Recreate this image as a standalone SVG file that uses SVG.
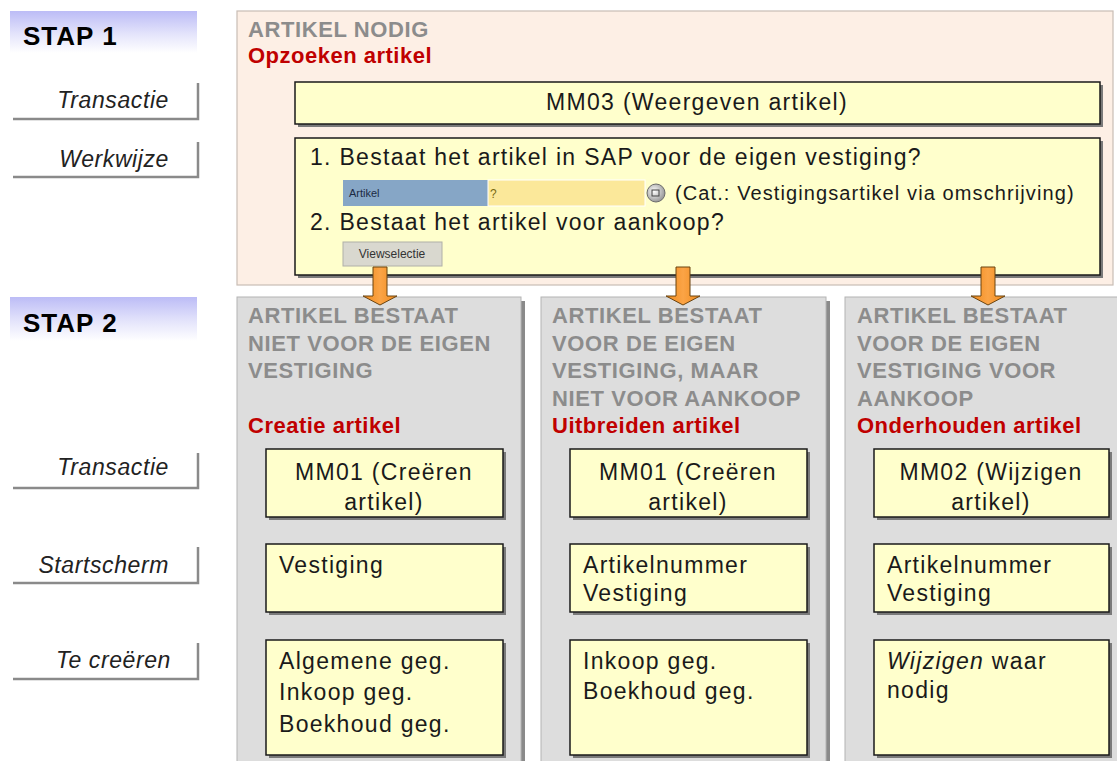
<svg xmlns="http://www.w3.org/2000/svg" width="1117" height="761" viewBox="0 0 1117 761">
<defs>
<linearGradient id="stapGrad" x1="0" y1="0" x2="0" y2="1">
<stop offset="0" stop-color="#bcbcf6"/>
<stop offset="0.55" stop-color="#e4e4fb"/>
<stop offset="1" stop-color="#ffffff"/>
</linearGradient>
<linearGradient id="arrowGrad" x1="0" y1="0" x2="1" y2="0">
<stop offset="0" stop-color="#f08a1c"/>
<stop offset="0.5" stop-color="#fba446"/>
<stop offset="1" stop-color="#f08a1c"/>
</linearGradient>
<radialGradient id="iconGrad" cx="0.4" cy="0.4" r="0.6">
<stop offset="0" stop-color="#ffffff"/>
<stop offset="1" stop-color="#9a9a9a"/>
</radialGradient>
</defs>
<style>
.stap{font-family:"Liberation Sans",Arial,sans-serif;font-weight:bold;font-size:26px;fill:#000;letter-spacing:1px}
.lbl{font-family:"Liberation Sans",Arial,sans-serif;font-style:italic;font-size:23px;fill:#222;letter-spacing:0.6px;text-anchor:end}
.lblline{fill:none;stroke:#8a8a8a;stroke-width:2.5}
.head{font-family:"Liberation Sans",Arial,sans-serif;font-weight:bold;font-size:22px;fill:#8c8c8c;letter-spacing:0.6px}
.red{font-family:"Liberation Sans",Arial,sans-serif;font-weight:bold;font-size:22px;fill:#c00000;letter-spacing:0.5px}
.txt{font-family:"Liberation Sans",Arial,sans-serif;font-size:23px;fill:#1a1a1a;letter-spacing:1.3px}
.ctr{text-anchor:middle}
.box{fill:#ffffcc;stroke:#1a1a1a;stroke-width:1.5}
.shadow{fill:#7a7a7a}
.panel2{fill:#dddddd;stroke:#b4b4b4;stroke-width:1}
.pshadow{fill:#8a8a8a}
.arrow{fill:url(#arrowGrad);stroke:#6a4410;stroke-width:1}
</style>

<rect x="0" y="0" width="1117" height="761" fill="#ffffff"/>

<!-- Left column -->
<g id="stap1-header">
<rect x="10" y="11" width="187" height="42" fill="url(#stapGrad)"/>
<text class="stap" x="23" y="45">STAP 1</text>
</g>
<g id="label-transactie-1">
<polyline class="lblline" points="198,83 198,119 13,119"/>
<text class="lbl" x="169" y="108">Transactie</text>
</g>
<g id="label-werkwijze">
<polyline class="lblline" points="198,142 198,177 13,177"/>
<text class="lbl" x="169" y="167">Werkwijze</text>
</g>
<g id="stap2-header">
<rect x="10" y="297" width="187" height="44" fill="url(#stapGrad)"/>
<text class="stap" x="23" y="332">STAP 2</text>
</g>
<g id="label-transactie-2">
<polyline class="lblline" points="198,453 198,488 13,488"/>
<text class="lbl" x="169" y="475">Transactie</text>
</g>
<g id="label-startscherm">
<polyline class="lblline" points="198,547 198,583 13,583"/>
<text class="lbl" x="169" y="573">Startscherm</text>
</g>
<g id="label-te-creeren">
<polyline class="lblline" points="198,643 198,679 13,679"/>
<text class="lbl" x="171" y="668">Te creëren</text>
</g>

<!-- Stap 1 panel -->
<g id="stap1-panel">
<rect x="237" y="11" width="876" height="274" fill="#fdefe5" stroke="#c9bdb5" stroke-width="1.2"/>
<text class="head" x="248" y="37">ARTIKEL NODIG</text>
<text class="red" x="248" y="63">Opzoeken artikel</text>
</g>
<g id="mm03">
<rect class="shadow" x="298" y="85" width="805" height="42"/>
<rect class="box" x="295" y="82" width="805" height="42"/>
<text class="txt ctr" x="697" y="110">MM03 (Weergeven artikel)</text>
</g>
<g id="werkwijze">
<rect class="shadow" x="298" y="141" width="805" height="137"/>
<rect class="box" x="295" y="138" width="805" height="137"/>
<text class="txt" x="310" y="165">1. Bestaat het artikel in SAP voor de eigen vestiging?</text>
<rect x="343" y="180" width="145" height="26" fill="#86a6c6"/>
<rect x="488" y="180" width="157" height="26" fill="#fbe89a" stroke="#ffffff" stroke-width="1"/>
<text x="349" y="197" font-family="'Liberation Sans',Arial,sans-serif" font-size="11" fill="#1c2a44">Artikel</text>
<text x="490" y="198" font-family="'Liberation Sans',Arial,sans-serif" font-size="12" fill="#7a6a10">?</text>
<circle cx="656" cy="193" r="9" fill="url(#iconGrad)" stroke="#6c6c6c" stroke-width="1"/>
<rect x="652" y="190" width="7" height="6" fill="none" stroke="#444" stroke-width="1"/>
<text class="txt" x="675" y="200" style="font-size:20px;letter-spacing:1.1px">(Cat.: Vestigingsartikel via omschrijving)</text>
<text class="txt" x="310" y="230">2. Bestaat het artikel voor aankoop?</text>
<rect x="343" y="242" width="99" height="24" fill="#d9d8cf" stroke="#b0b0a8" stroke-width="1"/>
<text x="392" y="258" text-anchor="middle" font-family="'Liberation Sans',Arial,sans-serif" font-size="12" fill="#333">Viewselectie</text>
</g>

<!-- Stap 2 panels -->
<g id="panel-creatie">
<rect class="pshadow" x="241" y="301" width="284" height="470"/>
<rect class="panel2" x="237" y="297" width="284" height="470"/>
<text class="head" x="248" y="323">ARTIKEL BESTAAT</text>
<text class="head" x="248" y="351">NIET VOOR DE EIGEN</text>
<text class="head" x="248" y="378">VESTIGING</text>
<text class="red" x="248" y="433">Creatie artikel</text>
</g>
<g id="panel-uitbreiden">
<rect class="pshadow" x="545" y="301" width="285" height="470"/>
<rect class="panel2" x="541" y="297" width="285" height="470"/>
<text class="head" x="552" y="323">ARTIKEL BESTAAT</text>
<text class="head" x="552" y="351">VOOR DE EIGEN</text>
<text class="head" x="552" y="378">VESTIGING, MAAR</text>
<text class="head" x="552" y="406">NIET VOOR AANKOOP</text>
<text class="red" x="552" y="433">Uitbreiden artikel</text>
</g>
<g id="panel-onderhouden">
<rect class="pshadow" x="849" y="301" width="285" height="470"/>
<rect class="panel2" x="845" y="297" width="285" height="470"/>
<text class="head" x="857" y="323">ARTIKEL BESTAAT</text>
<text class="head" x="857" y="351">VOOR DE EIGEN</text>
<text class="head" x="857" y="378">VESTIGING VOOR</text>
<text class="head" x="857" y="406">AANKOOP</text>
<text class="red" x="857" y="433">Onderhouden artikel</text>
</g>

<!-- Panel 1 boxes -->
<g id="p1-transactie">
<rect class="shadow" x="269" y="452" width="237" height="68"/>
<rect class="box" x="266" y="449" width="237" height="68"/>
<text class="txt ctr" x="384" y="480">MM01 (Creëren</text>
<text class="txt ctr" x="384" y="510">artikel)</text>
</g>
<g id="p1-startscherm">
<rect class="shadow" x="269" y="547" width="237" height="68"/>
<rect class="box" x="266" y="544" width="237" height="68"/>
<text class="txt" x="279" y="573">Vestiging</text>
</g>
<g id="p1-creeren">
<rect class="shadow" x="269" y="643" width="237" height="115"/>
<rect class="box" x="266" y="640" width="237" height="115"/>
<text class="txt" x="279" y="669">Algemene geg.</text>
<text class="txt" x="279" y="700">Inkoop geg.</text>
<text class="txt" x="279" y="732">Boekhoud geg.</text>
</g>

<!-- Panel 2 boxes -->
<g id="p2-transactie">
<rect class="shadow" x="573" y="452" width="237" height="68"/>
<rect class="box" x="570" y="449" width="237" height="68"/>
<text class="txt ctr" x="688" y="480">MM01 (Creëren</text>
<text class="txt ctr" x="688" y="510">artikel)</text>
</g>
<g id="p2-startscherm">
<rect class="shadow" x="573" y="547" width="237" height="68"/>
<rect class="box" x="570" y="544" width="237" height="68"/>
<text class="txt" x="583" y="573">Artikelnummer</text>
<text class="txt" x="583" y="601">Vestiging</text>
</g>
<g id="p2-creeren">
<rect class="shadow" x="573" y="643" width="237" height="115"/>
<rect class="box" x="570" y="640" width="237" height="115"/>
<text class="txt" x="583" y="669">Inkoop geg.</text>
<text class="txt" x="583" y="699">Boekhoud geg.</text>
</g>

<!-- Panel 3 boxes -->
<g id="p3-transactie">
<rect class="shadow" x="877" y="452" width="235" height="68"/>
<rect class="box" x="874" y="449" width="235" height="68"/>
<text class="txt ctr" x="991" y="480">MM02 (Wijzigen</text>
<text class="txt ctr" x="991" y="510">artikel)</text>
</g>
<g id="p3-startscherm">
<rect class="shadow" x="877" y="547" width="235" height="68"/>
<rect class="box" x="874" y="544" width="235" height="68"/>
<text class="txt" x="887" y="573">Artikelnummer</text>
<text class="txt" x="887" y="601">Vestiging</text>
</g>
<g id="p3-wijzigen">
<rect class="shadow" x="877" y="643" width="235" height="115"/>
<rect class="box" x="874" y="640" width="235" height="115"/>
<text class="txt" x="887" y="669"><tspan font-style="italic">Wijzigen</tspan> waar</text>
<text class="txt" x="887" y="698">nodig</text>
</g>

<!-- Connectors -->
<g id="connectors">
<path class="arrow" d="M373,267 H387 V296 H397 L380,305 L363,296 H373 Z"/>
<path class="arrow" d="M676,267 H690 V296 H700 L683,305 L666,296 H676 Z"/>
<path class="arrow" d="M981,267 H995 V296 H1005 L988,305 L971,296 H981 Z"/>
</g>
</svg>
